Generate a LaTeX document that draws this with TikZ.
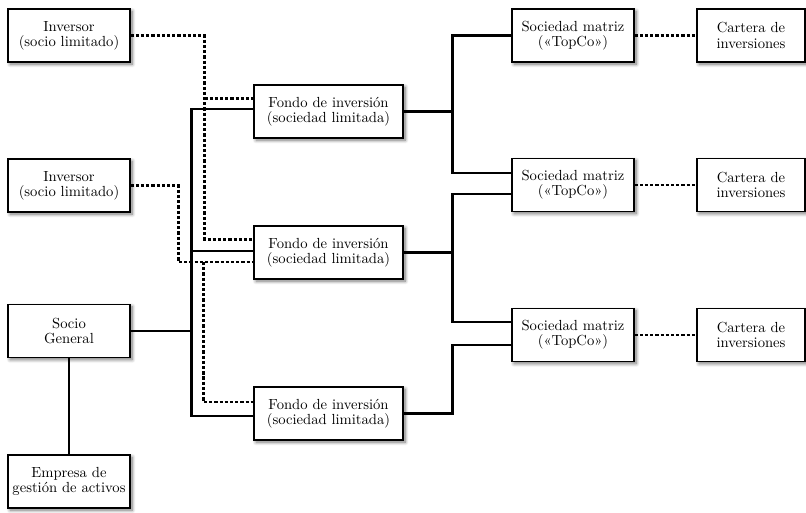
\documentclass[tikz,border=0pt]{standalone}
\usepackage{fontspec}
\usetikzlibrary{calc,shadows.blur}

\tikzset{
  entity/.style={draw, line width=0.8pt, fill=white, align=center,
    minimum height=1.325cm, inner sep=1pt,
    font=\fontsize{10.4}{10.9}\selectfont,
    blur shadow={shadow xshift=1.5pt, shadow yshift=-1.5pt, shadow blur radius=2.5pt, shadow blur steps=8, shadow opacity=55}},
  sidebox/.style={entity, minimum width=3.05cm},
  fundbox/.style={entity, minimum width=3.725cm},
  holdbox/.style={entity, minimum width=3.05cm},
  portbox/.style={entity, minimum width=2.7cm},
  link/.style={line width=1.7pt},
  dashlink/.style={line width=1.7pt, dash pattern=on 2.3pt off 1.4pt}
}

\begin{document}
\begin{tikzpicture}[x=0.025cm, y=-0.025cm]

  \useasboundingbox (0,0) rectangle (806,512);

  % left column
  \node[sidebox] (inv1) at (69,35.5)  {Inversor\\(socio limitado)};
  \node[sidebox] (inv2) at (69,185.5) {Inversor\\(socio limitado)};
  \node[sidebox] (gp)   at (69,331)   {Socio\\General};
  \node[sidebox] (amc)  at (69,481.5) {Empresa de\\gestión de activos};

  % funds
  \node[fundbox] (f1) at (328.5,111.5) {Fondo de inversión\\(sociedad limitada)};
  \node[fundbox] (f2) at (328.5,252.5) {Fondo de inversión\\(sociedad limitada)};
  \node[fundbox] (f3) at (328.5,413.5) {Fondo de inversión\\(sociedad limitada)};

  % holdings and portfolios
  \foreach \i/\y in {1/35.5, 2/185, 3/335} {
    \node[holdbox] (t\i) at (573,\y) {Sociedad matriz\\(«TopCo»)};
    \node[portbox] (c\i) at (751,\y) {Cartera de\\inversiones};
    \draw[dashlink] (t\i.east) -- (c\i.west);
  }

  % investors
  \draw[dashlink] (inv1.east) -| ($(f2.west)+(-49,-13)$) -- ($(f2.west)+(0,-13)$);
  \draw[dashlink] ($(f1.west)+(-49,-13)$) -- ($(f1.west)+(0,-13)$);
  \draw[dashlink] (inv2.east) -| ($(f2.west)+(-75,9.5)$) -- ($(f2.west)+(0,9.5)$);
  \draw[dashlink] ($(f2.west)+(-50,9.5)$) |- ($(f3.west)+(0,-11.5)$);

  % general partner
  \draw[link] (gp.east) -- ++(62,0);
  \draw[link] ($(f1.west)+(0,-2.5)$) -| ($(f3.west)+(-62,2.5)$) -- ($(f3.west)+(0,2.5)$);
  \draw[link] ($(f2.west)+(-62,-1.5)$) -- ($(f2.west)+(0,-1.5)$);
  \draw[link] (gp.south) -- (amc.north);

  % funds to holdings
  \draw[link] (f1.east) -- ++(50,0);
  \draw[link] (t1.west) -| ($(t2.west)+(-59,-12)$) -- ($(t2.west)+(0,-12)$);
  \draw[link] (f2.east) -- ++(50,0);
  \draw[link] ($(t2.west)+(0,9)$) -| ($(t3.west)+(-59,-13)$) -- ($(t3.west)+(0,-13)$);
  \draw[link] (f3.east) -| ($(t3.west)+(-59,10)$) -- ($(t3.west)+(0,10)$);

\end{tikzpicture}
\end{document}
